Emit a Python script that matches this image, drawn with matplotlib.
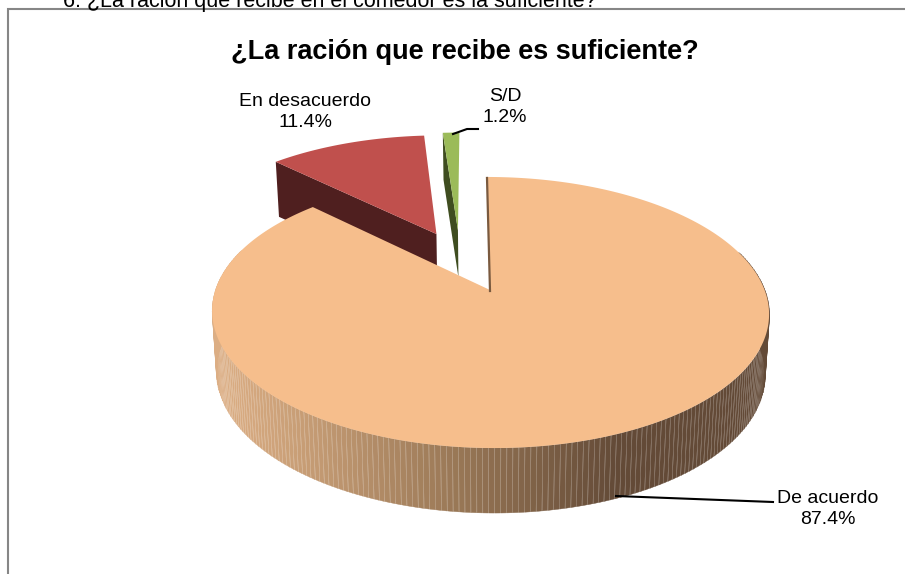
from matplotlib import pyplot as plt
from matplotlib import font_manager as fm
from matplotlib.colors import to_rgb
import numpy as np

question = "6. ¿La ración que recibe en el comedor es la suficiente?"
title = "¿La ración que recibe es suficiente?"
categories = ["De acuerdo", "En desacuerdo", "S/D"]
percent = [87.4, 11.4, 1.2]

top_col = ['#f6be8c', '#c0504d', '#9bbb59']
wall_col = ['#7a5a3f', '#4f1f1f', '#3f4d20']
shift = [(0.0, 0.0), (-0.204, 0.457), (-0.12, 0.49)]  # explode offsets
depth = [60, 55, 47]

plt.rcParams['font.family'] = ['Liberation Sans', 'DejaVu Sans']
print([f.name for f in fm.fontManager.ttflist if 'Narrow' in f.name or 'Condensed' in f.name][:5])

fig = plt.figure(figsize=(9.05, 5.74), dpi=100)
ax = fig.add_axes([0, 0, 1, 1])
ax.set_xlim(0, 905)
ax.set_ylim(574, 0)
ax.axis('off')


# circle coordinates to screen, with the perspective of the 3d pie
def project(u, v):
    w = 1 + 0.166 * v
    return 490 + (274.6 * u - 3.5 * v) / w, 290 - 131.8 * v / w


def lower(x, y, d):
    return 490 + (x - 490) * 0.985, y + d


def wall_gradient(x):
    return np.array([np.interp(x, [218, 300, 450, 620, 770], [a, b, c, d, d])
                     for a, b, c, d in zip(to_rgb('#dcae84'), to_rgb('#c89e76'), to_rgb('#9c7a58'), to_rgb('#634a37'))])


stops = np.cumsum([0] + percent) * 3.6

# small slices first, the big one covers them
for i in [2, 1, 0]:
    th = np.radians(np.linspace(stops[i], stops[i + 1], 300))
    u = np.sin(th) + shift[i][0]
    v = np.cos(th) + shift[i][1]
    x, y = project(u, v)
    ax_, ay_ = project(shift[i][0], shift[i][1])
    if i == 0:
        bx, by = lower(x, y, 60 - 5 * v)
        for j in range(len(x) - 1):
            if v[j] < 0.3:
                ax.fill([x[j], x[j + 1] + 0.5, bx[j + 1] + 0.5, bx[j]], [y[j], y[j + 1], by[j + 1], by[j]],
                        color=wall_gradient(x[j]), lw=0.3)
        ax.plot([ax_, x[0]], [ay_ + 1, y[0] + 1], color=wall_col[0], lw=1.6)
    else:
        bx, by = lower(x[0], y[0], depth[i])
        cx, cy = lower(ax_, ay_, depth[i])
        ax.fill([x[0], ax_, cx, bx], [y[0], ay_, cy, by], color=wall_col[i], lw=0)
    ax.fill(np.r_[ax_, x], np.r_[ay_, y], color=top_col[i], lw=0)

# frame, only top and left are in the crop
ax.plot([8, 8, 905], [574, 8.5, 8.5], color='#868686', lw=1.5, solid_joinstyle='miter')

ax.plot([453, 467, 478], [134, 129, 129], color='black', lw=1.5)
ax.plot([616, 773], [496, 502], color='black', lw=1.5)

ax.text(330, 1, question, fontsize=15.5, ha='center', va='center')
ax.text(465, 52, title, fontsize=19.5, fontweight='bold', ha='center', va='center')
label_pos = [(828, 509), (305, 112), (505, 107)]
for i in range(3):
    ax.text(label_pos[i][0], label_pos[i][1], "%s\n%.1f%%" % (categories[i], percent[i]),
            fontsize=14, ha='center', va='center', linespacing=1.25)

plt.savefig("out.png", dpi=100)
